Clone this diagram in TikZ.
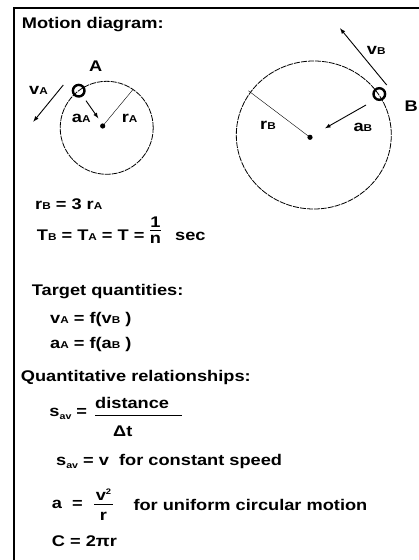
\documentclass[tikz,border=0pt]{standalone}
\usepackage{fontspec}
\setmainfont[FakeStretch=1.18]{Liberation Sans}
\usepackage{tikz}
\usetikzlibrary{positioning,arrows,calc}

\newcommand{\smsub}[1]{{\fontsize{10}{10}\selectfont #1}}
\newcommand{\lowsub}[1]{\raisebox{-3bp}{\fontsize{9}{9}\selectfont #1}}
\newcommand{\supsm}[1]{\raisebox{6bp}{\fontsize{8}{8}\selectfont #1}}

\begin{document}
\begin{tikzpicture}[x=1bp, y=-1bp,
    txt/.style={anchor=base west, inner sep=0pt, font=\bfseries\fontsize{15.5}{18}\selectfont},
    vec/.style={-latex, line width=0.9bp},
    orbit/.style={line width=0.8bp, dash pattern=on 6bp off 1bp},
    particle/.style={line width=2.4bp},
    fracbar/.style={line width=1bp}]
    \useasboundingbox (0,0) rectangle (418,560);
    \draw[line width=2bp] (13.7,562) -- (13.7,8.3) -- (420,8.3);

    \node[txt] (title) at (21.7,28.3) {Motion diagram:};

    % small circle, particle A
    \coordinate (cA) at (102.7,126);
    \coordinate (pA) at (78.7,90.7);
    \draw[orbit] (106.7,127.8) circle (46.5bp);
    \fill (cA) circle (2.6bp);
    \draw[particle] (pA) circle (5.8bp);
    \draw (cA) -- (133,89.5);
    \draw[vec] (63.3,85) -- (33.3,121.7);
    \draw[vec] (86,100.7) -- (98.3,118.3);
    \node[txt] (labA) at (89,72) {A};
    \node[txt] (vA) at (29,95) {v\smsub{A}};
    \node[txt] (aA) at (71.7,123) {a\smsub{A}};
    \node[txt] (rA) at (121.7,123) {r\smsub{A}};

    % big circle, particle B
    \coordinate (cB) at (310,137.3);
    \coordinate (pB) at (379.3,94);
    \draw[orbit] (313.8,135) ellipse (77.5bp and 74bp);
    \fill (cB) circle (2.6bp);
    \draw[particle] (pB) circle (5.8bp);
    \draw (cB) -- (248.3,90.7);
    \draw[vec] (386.7,85) -- (340,28.3);
    \draw[vec] (366,105) -- (325,128.3);
    \node[txt] (labB) at (404.5,111.7) {B};
    \node[txt] (vB) at (366.7,55) {v\smsub{B}};
    \node[txt] (rB) at (260,130) {r\smsub{B}};
    \node[txt] (aB) at (353.3,131.7) {a\smsub{B}};

    % givens
    \node[txt] (ratio) at (35,210) {r\smsub{B} = 3 r\smsub{A}};
    \node[txt] (period) at (36.7,240) {T\smsub{B} = T\smsub{A} = T =};
    \node[txt, anchor=base] (one) at (155.5,227) {1};
    \draw[fracbar] (150,230.5) -- (161,230.5);
    \node[txt, anchor=base] (nn) at (155.5,243) {n};
    \node[txt] (sec) at (175,240) {sec};

    \node[txt] (target) at (31.7,295) {Target quantities:};
    \node[txt] (tv) at (50,323.3) {v\smsub{A} = f(v\smsub{B} )};
    \node[txt] (ta) at (50,348.3) {a\smsub{A} = f(a\smsub{B} )};

    \node[txt] (quant) at (20.7,381.7) {Quantitative relationships:};
    \node[txt] (sav) at (49.3,416.7) {s\lowsub{av} =};
    \node[txt] (dist) at (95,408.3) {distance};
    \draw[fracbar] (95,415.7) -- (181.7,415.7);
    \node[txt] (dt) at (113,436.7) {Δt};
    \node[txt] (const) at (56,465) {s\lowsub{av} = v\ \ for constant speed};
    \node[txt] (acc) at (51.7,508.3) {a \ =};
    \node[txt, anchor=base] (vsq) at (103.5,500) {v\supsm{2}};
    \draw[fracbar] (94.3,504) -- (112.7,504);
    \node[txt, anchor=base] (rr) at (103.5,520) {r};
    \node[txt] (ucm) at (133.3,510) {for uniform circular motion};
    \node[txt] (circ) at (51.7,546.7) {C = 2πr};
\end{tikzpicture}
\end{document}
